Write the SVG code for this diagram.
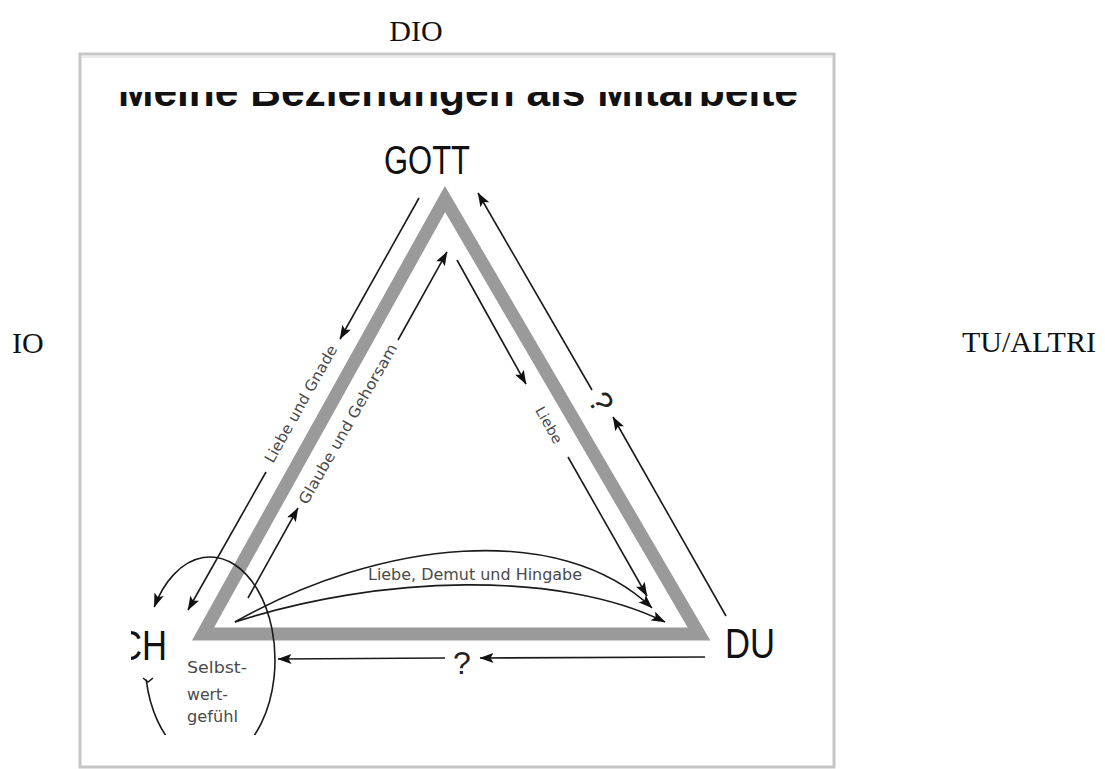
<svg xmlns="http://www.w3.org/2000/svg" width="1105" height="769" viewBox="0 0 1105 769">
<style>
.lbl{font-family:"Liberation Serif","Times New Roman",serif;font-size:30px;fill:#111}
.big{font-family:"Liberation Sans",Arial,sans-serif;font-size:42px;fill:#111}
.hand{font-family:"DejaVu Sans","Noto Sans",sans-serif;fill:#4a4a4a}
.ln{fill:none;stroke:#1a1a1a;stroke-width:1.6}
.q{font-family:"Liberation Sans",Arial,sans-serif;font-size:32px;fill:#222}
</style>
<defs>
<marker id="ah" markerWidth="14" markerHeight="10" refX="13.5" refY="5" orient="auto" markerUnits="userSpaceOnUse">
<path d="M0,0 L14,5 L0,10 L3,5 z" fill="#111"/>
</marker>
<clipPath id="clipTitle"><rect x="80" y="92" width="720" height="40"/></clipPath>
<clipPath id="clipCH"><rect x="131" y="600" width="60" height="80"/></clipPath>
<clipPath id="clipBottom"><rect x="80" y="60" width="750" height="675"/></clipPath>
</defs>
<rect x="0" y="0" width="1105" height="769" fill="#fff"/>

<g id="outer-labels">
<text class="lbl" x="416" y="41" text-anchor="middle">DIO</text>
<text class="lbl" x="12" y="353">IO</text>
<text class="lbl" x="962" y="352">TU/ALTRI</text>
</g>

<g id="frame">
<rect x="80" y="54" width="754" height="713" fill="#fff" stroke="#c6c6c6" stroke-width="3"/>
<line x1="82" y1="57" x2="832" y2="57" stroke="#ececec" stroke-width="2"/>
</g>

<g id="title">
<text clip-path="url(#clipTitle)" x="118" y="106" textLength="680" lengthAdjust="spacingAndGlyphs" style="font-family:'Liberation Sans',Arial,sans-serif;font-weight:bold;font-size:42px;fill:#111">Meine Beziehungen als Mitarbeite</text>
</g>

<g id="triangle">
<path d="M445,199 L699,634 L203,634 Z" fill="none" stroke="#9a9a9a" stroke-width="13" stroke-linejoin="miter"/>
</g>

<g id="node-gott">
<text class="big" x="384" y="174" textLength="86" lengthAdjust="spacingAndGlyphs" style="font-size:40px">GOTT</text>
</g>
<g id="node-du">
<text class="big" x="725" y="658" textLength="50" lengthAdjust="spacingAndGlyphs">DU</text>
</g>
<g id="node-ich">
<text class="big" clip-path="url(#clipCH)" x="117" y="660" textLength="50" lengthAdjust="spacingAndGlyphs">CH</text>
</g>

<g id="node-selbstwert">
<g clip-path="url(#clipBottom)">
<path class="ln" d="M146.19,679.65 A65,103 0 1 0 154.28,606.95" marker-end="url(#ah)"/>
</g>
<path class="ln" d="M143,678 L148,682 L153,678"/>
<text class="hand" style="font-size:16px" x="187" y="673" textLength="60" lengthAdjust="spacingAndGlyphs">Selbst-</text>
<text class="hand" style="font-size:16px" x="187" y="700" textLength="41" lengthAdjust="spacingAndGlyphs">wert-</text>
<text class="hand" style="font-size:16px" x="187" y="722" textLength="51" lengthAdjust="spacingAndGlyphs">gefühl</text>
</g>

<g id="connectors">
<path class="ln" d="M419,198 L340,339" marker-end="url(#ah)"/>
<path class="ln" d="M266,472 L188,610" marker-end="url(#ah)"/>
<path class="ln" d="M248,598 L298,508" marker-end="url(#ah)"/>
<path class="ln" d="M398,340 L447,252" marker-end="url(#ah)"/>
<path class="ln" d="M457,260 L526,384" marker-end="url(#ah)"/>
<path class="ln" d="M568,457 L647,596" marker-end="url(#ah)"/>
<path class="ln" d="M726,616 L613,417" marker-end="url(#ah)"/>
<path class="ln" d="M592,390 L478,193" marker-end="url(#ah)"/>
<path class="ln" d="M705,657 L480,658" marker-end="url(#ah)"/>
<path class="ln" d="M445,658 L278,659" marker-end="url(#ah)"/>
<path class="ln" d="M235,622 C380,540 560,520 652,608" marker-end="url(#ah)"/>
<path class="ln" d="M235,622 C380,575 560,570 665,622" marker-end="url(#ah)"/>
</g>

<g id="connector-labels">
<text class="hand" style="font-size:15px" transform="translate(301,404) rotate(-60.6)" text-anchor="middle" dominant-baseline="central" textLength="132" lengthAdjust="spacingAndGlyphs">Liebe und Gnade</text>
<text class="hand" style="font-size:15px" transform="translate(348,424) rotate(-60.1)" text-anchor="middle" dominant-baseline="central" textLength="182" lengthAdjust="spacingAndGlyphs">Glaube und Gehorsam</text>
<text class="hand" style="font-size:14px" transform="translate(549,425) rotate(60.5)" text-anchor="middle" dominant-baseline="central" textLength="40" lengthAdjust="spacingAndGlyphs">Liebe</text>
<text class="q" transform="translate(601,402) rotate(59.6)" text-anchor="middle" dominant-baseline="central">?</text>
<text class="q" x="462" y="674" text-anchor="middle">?</text>
<text class="hand" style="font-size:15px" x="368" y="580" textLength="214" lengthAdjust="spacingAndGlyphs">Liebe, Demut und Hingabe</text>
</g>
</svg>
